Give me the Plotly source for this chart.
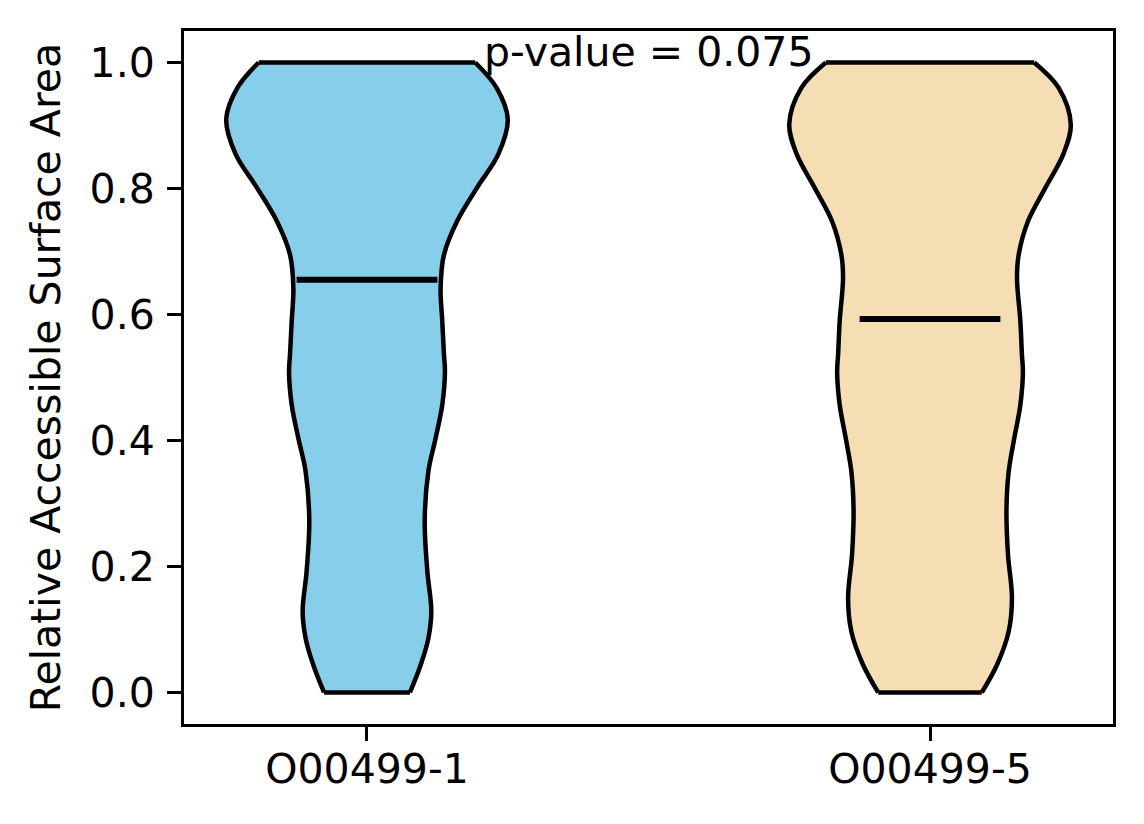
import plotly.graph_objects as go

# данные
groups = ['O00499-1', 'O00499-5']
positions = [1, 2]
colors = ['#87CEEB', '#F5DEB3']

# профиль плотности: уровни RSA и относительная полуширина (1 = макс.)
left_vals = [0.0, 0.044, 0.086, 0.129, 0.192, 0.272, 0.351, 0.404, 0.457, 0.510,
             0.536, 0.589, 0.642, 0.695, 0.748, 0.801, 0.855, 0.910, 0.960, 1.0]
left_dens = [0.305, 0.382, 0.436, 0.457, 0.429, 0.410, 0.436, 0.488, 0.535, 0.554,
             0.547, 0.535, 0.523, 0.547, 0.640, 0.781, 0.934, 1.0, 0.920, 0.769]

right_vals = [0.0, 0.044, 0.097, 0.150, 0.219, 0.288, 0.351, 0.404, 0.457, 0.510,
              0.536, 0.589, 0.658, 0.695, 0.748, 0.801, 0.855, 0.902, 0.960, 1.0]
right_dens = [0.368, 0.476, 0.559, 0.582, 0.554, 0.543, 0.559, 0.599, 0.642, 0.660,
              0.653, 0.642, 0.618, 0.630, 0.696, 0.819, 0.948, 1.0, 0.913, 0.740]

medians = [0.655, 0.593]
p_value = 0.075

half_width = 0.25  # ширина скрипки 0.5
FONT = 'DejaVu Sans'

fig = go.Figure()

profiles = [(left_vals, left_dens), (right_vals, right_dens)]

# боковые стороны: левая, затем правая с заливкой до левой
for pos, (vals, dens), color in zip(positions, profiles, colors):
    fig.add_trace(go.Scatter(
        x=[pos - half_width * d for d in dens],
        y=vals,
        mode='lines',
        line=dict(color='black', width=4.5, shape='spline', smoothing=1),
        showlegend=False,
        hoverinfo='skip'
    ))
    fig.add_trace(go.Scatter(
        x=[pos + half_width * d for d in dens],
        y=vals,
        mode='lines',
        fill='tonextx',
        fillcolor=color,
        line=dict(color='black', width=4.5, shape='spline', smoothing=1),
        showlegend=False,
        hoverinfo='skip'
    ))

# верхняя и нижняя кромки
for pos, (vals, dens) in zip(positions, profiles):
    fig.add_trace(go.Scatter(
        x=[pos - half_width * dens[0], pos + half_width * dens[0], None,
           pos - half_width * dens[-1], pos + half_width * dens[-1]],
        y=[vals[0], vals[0], None, vals[-1], vals[-1]],
        mode='lines',
        line=dict(color='black', width=4.5),
        showlegend=False,
        hoverinfo='skip'
    ))

# медианы
for pos, med in zip(positions, medians):
    fig.add_trace(go.Scatter(
        x=[pos - half_width / 2, pos + half_width / 2],
        y=[med, med],
        mode='lines',
        line=dict(color='black', width=6),
        showlegend=False,
        hoverinfo='skip'
    ))

fig.add_annotation(
    x=1.5, y=1.0,
    text=f"p-value = {p_value:.3f}",
    showarrow=False,
    xanchor='center', yanchor='bottom',
    yshift=-16,
    font=dict(family=FONT, size=41, color='black')
)

axis_common = dict(
    showline=True, linecolor='black', linewidth=3, mirror=True,
    ticks='outside', ticklen=14, tickwidth=3, tickcolor='black',
    showgrid=False, zeroline=False,
    tickfont=dict(family=FONT, size=41, color='black')
)

fig.update_xaxes(
    range=[0.675, 2.325],
    tickmode='array', tickvals=positions, ticktext=groups,
    ticklabelstandoff=-7,
    **axis_common
)
fig.update_yaxes(
    range=[-0.05, 1.05],
    tickmode='array', tickvals=[0.0, 0.2, 0.4, 0.6, 0.8, 1.0],
    tickformat='.1f',
    ticklabelstandoff=4,
    title=dict(text='Relative Accessible Surface Area', standoff=17,
               font=dict(family=FONT, size=41, color='black')),
    **axis_common
)

fig.update_layout(
    width=1144, height=824,
    margin=dict(l=176, r=39, t=23, b=108),
    plot_bgcolor='white',
    paper_bgcolor='white',
    font=dict(family=FONT, size=41, color='black')
)

fig.write_html("out.html")
